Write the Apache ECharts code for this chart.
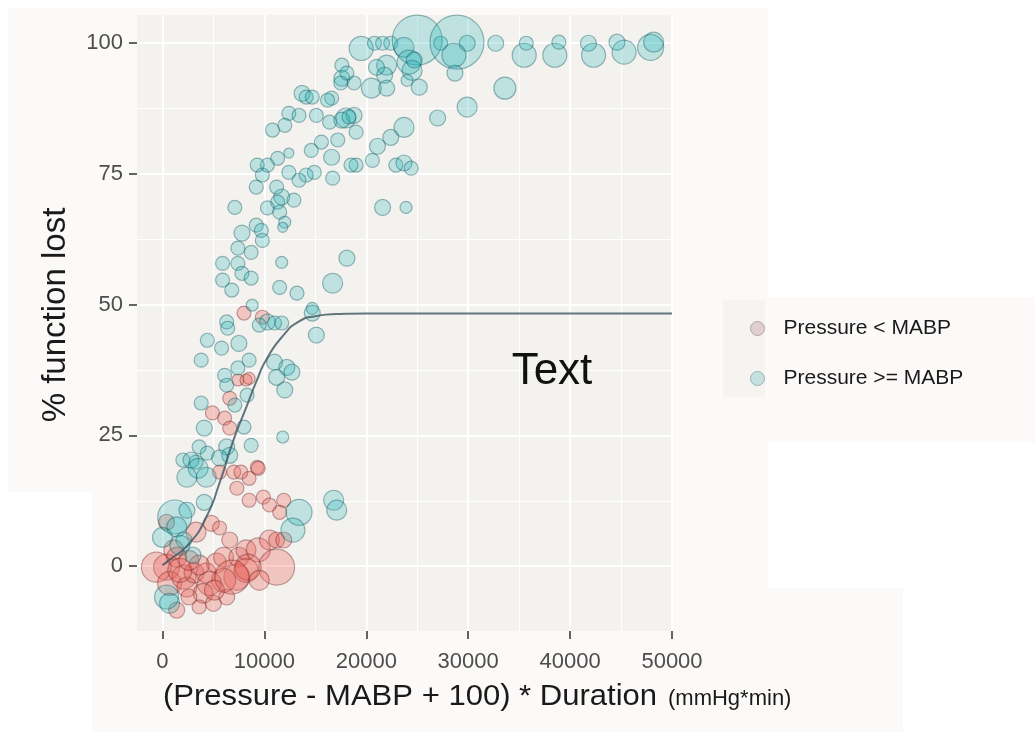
<!DOCTYPE html>
<html>
<head>
<meta charset="utf-8">
<script src="https://cdn.jsdelivr.net/npm/echarts@6/dist/echarts.min.js"></script>
<style>
html, body { margin: 0; padding: 0; background: #fff; }
.bg { position: absolute; background: #fcfaf8; }
#main { position: absolute; left: 0; top: 0; width: 1035px; height: 732px; }
</style>
</head>
<body>
<div class="bg" style="left:8px;top:8px;width:760px;height:484px"></div>
<div class="bg" style="left:92px;top:492px;width:676px;height:96px"></div>
<div class="bg" style="left:92px;top:588px;width:811px;height:144px"></div>
<div class="bg" style="left:720px;top:297px;width:315px;height:145px"></div>
<div class="bg" style="left:723px;top:300px;width:42px;height:97px;background:#f6f4f1"></div>
<div id="main"></div>
<script>
var legendNames = ["Pressure < MABP", "Pressure >= MABP"];
var xTicks = [0, 10000, 20000, 30000, 40000, 50000];
var xMinor = [5000, 15000, 25000, 35000, 45000];
var yTicks = [0, 25, 50, 75, 100];
var yMinor = [12.5, 37.5, 62.5, 87.5];

// points: [dose, % function lost, weight (bubble area)]
var redPoints = [
	[8000,48.4,49],[9800,47.6,49],[7400,35.6,36],[8200,35.6,36],[8500,35.9,36],[6600,32.1,49],
	[4900,29.3,49],[6100,28.3,49],[6600,26.4,49],[9300,18.9,49],[5600,18,49],[7000,18,49],
	[7700,18,49],[8500,16.8,49],[9400,18.7,49],[7300,14.9,49],[8500,12.6,49],[9900,13.2,49],
	[10500,11.7,49],[11900,12.6,49],[11500,10.3,49],[4800,8.2,64],[5600,7.3,49],[3300,6.5,100],
	[1100,3.1,100],[400,-0.2,169],[-600,-0.2,225],[700,-3.3,144],[2100,-2.1,144],[2400,-4,100],
	[3100,-1.3,100],[4300,-1.3,100],[5300,0.6,100],[6000,1.7,100],[6600,5,64],[7500,1.7,100],
	[8200,3.1,100],[7300,-2.1,169],[6000,-2.7,144],[4600,-3.3,144],[4000,-5.2,100],[2600,-5.9,64],
	[5000,-7.1,64],[3600,-7.8,49],[1400,-8.4,64],[8200,-0.8,144],[9400,3.1,144],[10500,5,100],
	[11200,5,64],[11900,5,64],[11200,-0.2,324],[8400,-0.2,169],[6300,-5.9,64],[1400,1.7,100],
	[400,8.4,64],[6800,-2.1,289],[1700,-0.8,144],[3600,0.2,100],[5100,-4.6,100],[2600,1.1,100],
	[9500,-2.7,100]
];

var tealPoints = [
	[19500,99,144],[20800,100,49],[21600,100,49],[22400,100,49],[23700,99.2,100],[25000,100.6,625],
	[27300,100,49],[28900,100.2,729],[29900,100,64],[28600,97.7,144],[32700,100,64],[35500,97.7,144],
	[35700,100,49],[38500,97.7,144],[38900,100.2,49],[42300,97.7,144],[41800,100,64],[45300,98.3,144],
	[44600,100.2,64],[47900,99.2,169],[48200,100.2,100],
	[22000,95.8,100],[21800,93.9,64],[24200,96.4,144],[24500,94.8,100],[24000,92.9,36],[25200,91.6,64],
	[28700,94.3,64],[33600,91.4,121],[29900,87.8,100],[27000,85.7,64],[23700,83.9,100],[24700,96.8,64],
	[17600,95.8,49],[17600,93.3,64],[18800,92.4,49],[20500,91.4,100],[22000,91.4,64],[18000,85.7,100],
	[18800,86.2,64],[16600,89.5,49],[21000,95.4,64],[18100,94.3,49],[17500,92.4,49],
	[13700,90.4,64],[14100,89.7,49],[14700,89.7,49],[16200,89.1,49],[12400,86.6,49],[13400,86.2,49],
	[12000,84.3,49],[10800,83.4,49],[15100,86.2,49],[16400,84.9,49],[17600,85.3,64],[18300,85.9,49],
	[19000,83,49],[17200,81.5,49],[15600,81.1,49],[14600,79.5,49],[16600,78.2,64],[16700,74.2,49],
	[14900,75.3,49],[14100,74.8,49],[13400,73.8,49],[12400,75.3,49],[12400,79,25],[11300,78,49],
	[10300,76.7,49],[9300,76.7,49],[9800,74.8,49],[9200,72.5,49],[11200,72.5,49],[11700,70.6,64],
	[11300,69.6,49],[12900,70,49],[10300,68.5,49],[11500,67.7,49],[12000,65.8,36],[11800,64.8,25],
	[9200,65.2,49],[9700,64.2,49],[7800,63.7,64],[9800,62.3,49],[8700,60,49],[7400,60.8,49],
	[7400,57.9,49],[7800,56,49],[8700,55.1,49],[5900,57.9,49],[5900,54.7,49],[6800,52.8,49],
	[8800,49.9,36],[14700,49.3,36],[7100,68.6,49],
	[22400,82,64],[21100,80.3,64],[20600,77.6,49],[19000,76.7,49],[18500,76.7,49],[22900,76.7,49],
	[23700,77.1,64],[24400,76.1,49],[21600,68.6,64],[23900,68.6,36],[18100,58.9,64],[16700,54.1,100],
	[13200,52.2,49],[11500,53.3,49],[11700,58.1,36],
	[6300,46.7,49],[6400,45.5,49],[10300,46.7,64],[11000,46.5,49],[9500,46.1,49],[11700,46.5,49],
	[14700,48.4,64],[15100,44.2,64],[4400,43.2,49],[5800,41.7,49],[7500,42.6,64],[3800,39.4,49],
	[8500,39.4,49],[7400,37.9,49],[11000,39,64],[12200,38,64],[12700,37.1,64],[11200,36.1,64],
	[12000,33.7,64],[6100,36.5,49],[6300,34.6,49],[8300,32.7,49],[7100,30.8,49],[3800,31.2,49],
	[4100,26.4,64],[8000,26.6,49],[11800,24.7,36],[8700,23.1,49],[3600,22.8,49],[4400,21.6,49],
	[6300,22.8,64],[6600,21.2,64],[2000,20.3,49],[3300,19.9,49],
	[2800,20.3,64],[3500,18.7,100],[2400,17,100],[4300,17,100],[5600,20.7,64],[13400,10.3,169],
	[16800,12.6,100],[17100,10.7,100],[12800,6.9,144],[1200,9.4,289],[2400,10.7,64],[1400,7.5,100],
	[3000,2.1,64],[2100,5,64],[400,-5.9,144],[700,-7.1,100],[4100,12.2,64],[0,5.5,100],[1700,4,100]
];

// fitted curve
var fitX = [0, 700, 2650, 4300, 5600, 6950, 8250, 9250, 10200, 11800, 13400, 15000, 17000, 20000, 30000, 40000, 50000];
var fitY = [0.2, 1.2, 4.4, 9.4, 15.9, 24, 30.5, 35.5, 39.5, 44, 46.8, 47.8, 48.2, 48.3, 48.3, 48.3, 48.3];

var fontFamily = '"Liberation Sans", Arial, sans-serif';

function bubbleSize(d) {
	return Math.sqrt(d[2]) * 2;
}
function plainNumber(v) {
	return String(v);
}

var chart = echarts.init(document.getElementById("main"));
var option = {
	animation: false,
	backgroundColor: "transparent",
	grid: {
		left: 137, right: 363, top: 15, bottom: 101,
		show: true, backgroundColor: "#f3f2ef", borderWidth: 0
	},
	xAxis: [{
		type: "value", min: -2500, max: 50000, position: "top",
		axisLine: { show: false, onZero: false },
		axisTick: { show: false, customValues: xMinor },
		axisLabel: { show: false, customValues: xMinor },
		splitLine: { show: true, lineStyle: { color: "#ffffff", width: 1 } }
	}, {
		type: "value", min: -2500, max: 50000, position: "bottom",
		axisLine: { show: false, onZero: false },
		axisTick: { show: true, inside: false, length: 8, customValues: xTicks, lineStyle: { color: "#333", width: 1.5 } },
		axisLabel: { customValues: xTicks, formatter: plainNumber, color: "#4d4d4d", fontSize: 22, margin: 20, fontFamily: fontFamily },
		splitLine: { show: true, lineStyle: { color: "#ffffff", width: 2 } }
	}],
	yAxis: [{
		type: "value", min: -12.4, max: 105.4, position: "left",
		axisLine: { show: false, onZero: false },
		axisTick: { show: true, length: 8, customValues: yTicks, lineStyle: { color: "#333", width: 1.5 } },
		axisLabel: { customValues: yTicks, color: "#4d4d4d", fontSize: 22, margin: 14, fontFamily: fontFamily },
		splitLine: { show: true, lineStyle: { color: "#ffffff", width: 2 } }
	}, {
		type: "value", min: -12.4, max: 105.4, position: "right",
		axisLine: { show: false, onZero: false },
		axisTick: { show: false, customValues: yMinor },
		axisLabel: { show: false, customValues: yMinor },
		splitLine: { show: true, lineStyle: { color: "#ffffff", width: 1 } }
	}],
	legend: {
		orient: "vertical", left: 745, top: 313, itemGap: 29,
		icon: "circle", itemWidth: 14, itemHeight: 14,
		textStyle: { fontSize: 21, color: "#1a1a1a", fontFamily: fontFamily, padding: [0, 0, 0, 14] },
		data: [
			{ name: legendNames[0], itemStyle: { color: "#dcc6c8", borderColor: "#a5959a", borderWidth: 1 } },
			{ name: legendNames[1], itemStyle: { color: "#b9dbdb", borderColor: "#8aa5a7", borderWidth: 1 } }
		]
	},
	series: [{
		name: legendNames[0], type: "scatter", data: redPoints,
		xAxisIndex: 1,
		symbolSize: bubbleSize,
		itemStyle: { color: "rgba(235,95,85,0.38)", borderColor: "rgba(110,35,35,0.5)", borderWidth: 1.2 }
	}, {
		name: legendNames[1], type: "scatter", data: tealPoints,
		xAxisIndex: 1,
		symbolSize: bubbleSize,
		itemStyle: { color: "rgba(30,175,180,0.3)", borderColor: "rgba(15,85,90,0.5)", borderWidth: 1.2 }
	}, {
		type: "line", z: 5, silent: true, xAxisIndex: 1,
		data: fitX.map(function (x, i) { return [x, fitY[i]]; }),
		smooth: 0.6, showSymbol: false,
		lineStyle: { color: "rgba(60,85,95,0.8)", width: 2 }
	}],
	graphic: [{
		type: "text", x: 552, y: 372, z: 100,
		style: { text: "Text", fontSize: 44, fontFamily: fontFamily, fill: "#111", align: "center", verticalAlign: "middle" }
	}, {
		type: "text", x: 56, y: 315, rotation: Math.PI / 2, z: 100,
		style: { text: "% function lost", fontSize: 33, fontFamily: fontFamily, fill: "#1a1a1a", align: "center", verticalAlign: "middle" }
	}, {
		type: "text", x: 163, y: 697, scaleX: 1.07, z: 100,
		style: { text: "(Pressure - MABP + 100) * Duration", fontSize: 29, fontFamily: fontFamily, fill: "#1a1a1a", align: "left", verticalAlign: "middle" }
	}, {
		type: "text", x: 668, y: 699, z: 100,
		style: { text: "(mmHg*min)", fontSize: 22, fontFamily: fontFamily, fill: "#1a1a1a", align: "left", verticalAlign: "middle" }
	}]
};
chart.setOption(option);
</script>
</body>
</html>
